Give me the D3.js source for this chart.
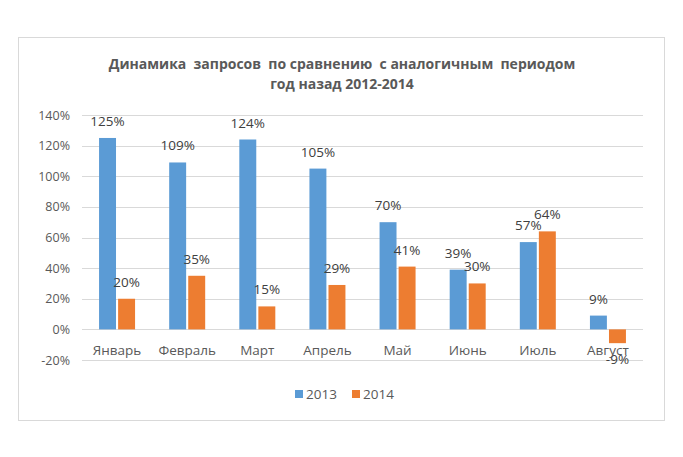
<!DOCTYPE html>
<html>
<head>
<meta charset="utf-8">
<script src="https://cdn.jsdelivr.net/npm/d3@7"></script>
<style>
  body { margin: 0; background: #fff; }
  text { font-family: "Open Sans", sans-serif; }
</style>
</head>
<body>
<div id="wrapper"></div>
<script>
// data
const months = ['Январь', 'Февраль', 'Март', 'Апрель', 'Май', 'Июнь', 'Июль', 'Август'];
const values2013 = [125, 109, 124, 105, 70, 39, 57, 9];
const values2014 = [20, 35, 15, 29, 41, 30, 64, -9];
const series = ['2013', '2014'];
const yTicks = [-20, 0, 20, 40, 60, 80, 100, 120, 140];
const titleLines = ['Динамика  запросов  по сравнению  с аналогичным  периодом', 'год назад 2012-2014'];

const colors = ['#5B9BD5', '#ED7D31'];
const textColor = '#595959';

const width = 683;
const height = 457;
const dimensions = {
    left: 82,
    right: 643,
    top: 115,
    bottom: 360,
};

const svg = d3.select('#wrapper')
    .append('svg')
    .attr('width', width)
    .attr('height', height);

// chart frame
svg.append('rect')
    .attr('x', 18.5)
    .attr('y', 37.5)
    .attr('width', 646)
    .attr('height', 383)
    .attr('fill', '#fff')
    .attr('stroke', '#d9d9d9');

// title
svg.append('g').selectAll('text')
    .data(titleLines)
    .join('text')
    .attr('x', 342)
    .attr('y', (d, i) => 69 + i * 20)
    .attr('text-anchor', 'middle')
    .attr('font-size', 14)
    .attr('font-weight', 'bold')
    .attr('fill', textColor)
    .style('white-space', 'pre')
    .text(d => d);

const y = d3.scaleLinear()
    .domain([-20, 140])
    .range([dimensions.bottom, dimensions.top]);

const x = d3.scaleBand()
    .domain(months)
    .range([dimensions.left, dimensions.right]);

const x1 = d3.scaleBand()
    .domain(series)
    .range([x.bandwidth() / 2 - 18, x.bandwidth() / 2 + 18])
    .paddingInner(0.11);

// gridlines
svg.append('g').selectAll('line')
    .data(yTicks)
    .join('line')
    .attr('x1', dimensions.left)
    .attr('x2', dimensions.right)
    .attr('y1', d => Math.round(y(d)) + 0.5)
    .attr('y2', d => Math.round(y(d)) + 0.5)
    .attr('stroke', '#d9d9d9')
    .attr('stroke-width', 1);

// y tick labels
svg.append('g').selectAll('text')
    .data(yTicks)
    .join('text')
    .attr('x', 70)
    .attr('y', d => y(d) + 4.5)
    .attr('text-anchor', 'end')
    .attr('font-size', 12.5)
    .attr('fill', textColor)
    .text(d => d + '%');

const rows = months.map((m, i) => ({ month: m, values: [values2013[i], values2014[i]] }));

const groups = svg.append('g').selectAll('g')
    .data(rows)
    .join('g')
    .attr('transform', d => `translate(${x(d.month)},0)`);

groups.selectAll('rect')
    .data(d => d.values.map((v, i) => ({ key: series[i], value: v, i })))
    .join('rect')
    .attr('x', d => x1(d.key))
    .attr('width', x1.bandwidth())
    .attr('y', d => y(Math.max(0, d.value)))
    .attr('height', d => Math.abs(y(d.value) - y(0)))
    .attr('fill', d => colors[d.i]);

// data labels
groups.selectAll('text')
    .data(d => d.values.map((v, i) => ({ key: series[i], value: v, i })))
    .join('text')
    .attr('x', d => x1(d.key) + x1.bandwidth() / 2)
    .attr('y', d => d.value >= 0 ? y(d.value) - 12 : y(d.value) + 21)
    .attr('text-anchor', 'middle')
    .attr('font-size', 13.5)
    .attr('fill', '#404040')
    .text(d => d.value + '%');

// category labels
svg.append('g').selectAll('text')
    .data(months)
    .join('text')
    .attr('x', d => x(d) + x.bandwidth() / 2)
    .attr('y', 355)
    .attr('text-anchor', 'middle')
    .attr('font-size', 13.5)
    .attr('fill', textColor)
    .text(d => d);

// legend
const legend = svg.append('g')
    .selectAll('g')
    .data(series)
    .join('g')
    .attr('transform', (d, i) => `translate(${295 + i * 57},390)`);

legend.append('rect')
    .attr('width', 8)
    .attr('height', 8)
    .attr('fill', (d, i) => colors[i]);

legend.append('text')
    .attr('x', 11)
    .attr('y', 9)
    .attr('font-size', 13.5)
    .attr('fill', textColor)
    .text(d => d);
</script>
</body>
</html>
